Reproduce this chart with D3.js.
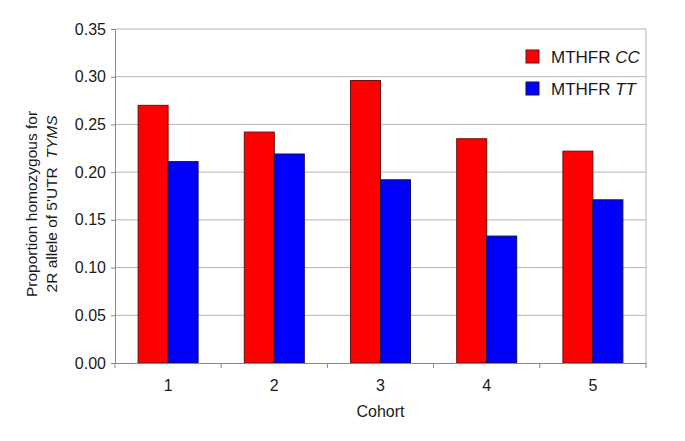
<!DOCTYPE html>
<html>
<head>
<meta charset="utf-8">
<script src="https://cdn.jsdelivr.net/npm/d3@7"></script>
<style>
  body { margin: 0; background: #fff; }
  text { font-family: "Liberation Sans", Arial, sans-serif; fill: #1a1a1a; }
</style>
</head>
<body>
<div id="chart"></div>
<script>
const width = 685;
const height = 441;

// data
const cohorts = ["1", "2", "3", "4", "5"];
const seriesNames = ["CC", "TT"];
const ccValues = [0.270, 0.242, 0.296, 0.235, 0.222];
const ttValues = [0.211, 0.219, 0.192, 0.133, 0.171];
const yTicks = [0, 0.05, 0.10, 0.15, 0.20, 0.25, 0.30, 0.35];
const colors = { CC: "#ff0000", TT: "#0000ff" };
const strokes = { CC: "#6a1010", TT: "#10104a" };

const margin = { top: 29, right: 39, bottom: 78, left: 115 };
const innerW = width - margin.left - margin.right;
const innerH = height - margin.top - margin.bottom;

const svg = d3.select("div#chart").append("svg")
    .attr("width", width)
    .attr("height", height);

const g = svg.append("g")
    .attr("transform", `translate(${margin.left},${margin.top})`);

const x = d3.scaleBand().domain(cohorts).range([0, innerW]).padding(0);
const x1 = d3.scaleBand().domain(seriesNames).range([0, x.bandwidth()])
    .paddingInner(0).paddingOuter(0.77);
const y = d3.scaleLinear().domain([0, 0.35]).range([innerH, 0]);

// gridlines
g.selectAll("line.grid")
    .data(yTicks.slice(1))
    .join("line")
    .attr("class", "grid")
    .attr("x1", 0)
    .attr("x2", innerW)
    .attr("y1", d => y(d))
    .attr("y2", d => y(d))
    .attr("stroke", "#b4b4b4")
    .attr("stroke-width", 1);

// right border
g.append("line")
    .attr("x1", innerW).attr("x2", innerW)
    .attr("y1", 0).attr("y2", innerH)
    .attr("stroke", "#b4b4b4");

// bars
const rows = cohorts.map((c, i) => ({ cohort: c, CC: ccValues[i], TT: ttValues[i] }));
const groups = g.selectAll("g.cohort")
    .data(rows)
    .join("g")
    .attr("class", "cohort")
    .attr("transform", d => `translate(${x(d.cohort)},0)`);

groups.selectAll("rect")
    .data(d => seriesNames.map(s => ({ key: s, value: d[s] })))
    .join("rect")
    .attr("x", d => x1(d.key))
    .attr("y", d => y(d.value))
    .attr("width", x1.bandwidth())
    .attr("height", d => innerH - y(d.value))
    .attr("fill", d => colors[d.key])
    .attr("stroke", d => strokes[d.key])
    .attr("stroke-width", 1);

// y axis
const yAxis = g.append("g")
    .call(d3.axisLeft(y).tickValues(yTicks).tickFormat(d3.format(".2f")).tickSize(4).tickPadding(5));
yAxis.select(".domain").attr("stroke", "#888");
yAxis.selectAll(".tick line").attr("stroke", "#888");
yAxis.selectAll("text").style("font-size", "16px").attr("fill", "#1a1a1a");

// x axis
const xAxis = g.append("g")
    .attr("transform", `translate(0,${innerH})`)
    .call(d3.axisBottom(x).tickSize(0).tickPadding(17));
xAxis.select(".domain").attr("stroke", "#888");
xAxis.selectAll("text").style("font-size", "16px").attr("fill", "#1a1a1a");

// tick marks at band edges
const edges = cohorts.map(c => x(c)).concat([innerW]);
g.selectAll("line.xtick")
    .data(edges)
    .join("line")
    .attr("class", "xtick")
    .attr("x1", d => d).attr("x2", d => d)
    .attr("y1", innerH).attr("y2", innerH + 5)
    .attr("stroke", "#888");

// axis titles
svg.append("text")
    .attr("x", margin.left + innerW / 2)
    .attr("y", 417)
    .attr("text-anchor", "middle")
    .style("font-size", "16px")
    .text("Cohort");

const yTitle = svg.append("text")
    .attr("transform", "translate(0,204) rotate(-90)")
    .attr("text-anchor", "middle")
    .style("font-size", "15.5px");
yTitle.append("tspan").attr("x", 0).attr("y", 37).text("Proportion homozygous for");
const l2 = yTitle.append("tspan").attr("x", 0).attr("y", 57);
l2.append("tspan").text("2R allele of 5'UTR\u00a0\u00a0");
l2.append("tspan").style("font-style", "italic").text("TYMS");

// legend
const legend = svg.append("g").attr("transform", "translate(526,50)");
seriesNames.forEach((s, i) => {
    const row = legend.append("g").attr("transform", `translate(0,${i * 32})`);
    row.append("rect")
        .attr("width", 13).attr("height", 13)
        .attr("fill", colors[s])
        .attr("stroke", strokes[s]);
    const t = row.append("text")
        .attr("x", 25).attr("y", 13)
        .style("font-size", "17px");
    t.append("tspan").text("MTHFR ");
    t.append("tspan").style("font-style", "italic").text(s);
});
</script>
</body>
</html>
